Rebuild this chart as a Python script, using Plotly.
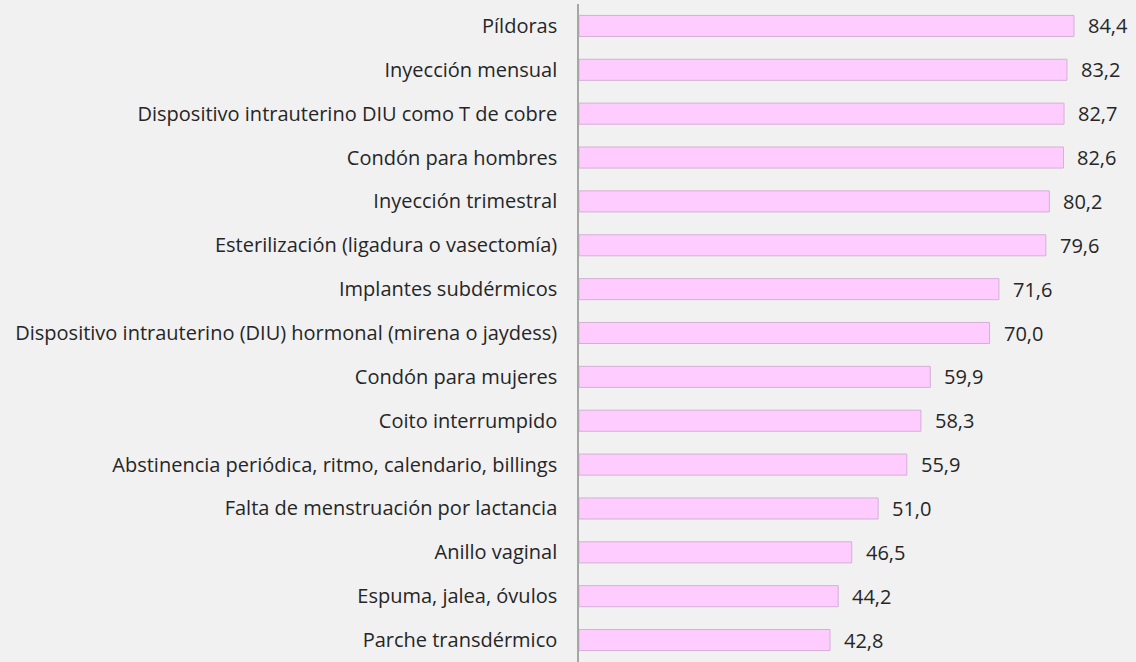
import plotly.graph_objects as go

# Contraceptive methods and percentage values
methods = [
    "Píldoras",
    "Inyección mensual",
    "Dispositivo intrauterino DIU como T de cobre",
    "Condón para hombres",
    "Inyección trimestral",
    "Esterilización (ligadura o vasectomía)",
    "Implantes subdérmicos",
    "Dispositivo intrauterino (DIU) hormonal (mirena o jaydess)",
    "Condón para mujeres",
    "Coito interrumpido",
    "Abstinencia periódica, ritmo, calendario, billings",
    "Falta de menstruación por lactancia",
    "Anillo vaginal",
    "Espuma, jalea, óvulos",
    "Parche transdérmico",
]
values = [84.4, 83.2, 82.7, 82.6, 80.2, 79.6, 71.6, 70.0, 59.9, 58.3, 55.9, 51.0, 46.5, 44.2, 42.8]

FONT = "Open Sans"
BG = "#f1f1f1"

fig = go.Figure()
fig.add_trace(go.Bar(
    x=values,
    y=methods,
    orientation="h",
    marker=dict(color="#ffccff", line=dict(color="#d4b0d4", width=1)),
    hoverinfo="skip",
))

# Value labels placed just beyond each bar end
for m, v in zip(methods, values):
    fig.add_annotation(
        x=v, y=m, xref="x", yref="y",
        text=f"{v:.1f}".replace(".", ","),
        showarrow=False, xanchor="left", xshift=12,
        font=dict(family=FONT, size=20, color="#262626"),
    )

fig.update_layout(
    width=1136, height=662,
    margin=dict(l=579, r=0, t=4, b=0),
    paper_bgcolor=BG, plot_bgcolor=BG,
    bargap=0.52,
    showlegend=False,
    xaxis=dict(range=[0, 94.97], visible=False),
    yaxis=dict(
        autorange="reversed",
        showline=True, linecolor="#a6a6a6", linewidth=1.5,
        showgrid=False, zeroline=False,
        ticks="outside", ticklen=16, tickcolor="rgba(0,0,0,0)",
        tickfont=dict(family=FONT, size=20, color="#262626"),
    ),
)

fig.write_html("out.html")
